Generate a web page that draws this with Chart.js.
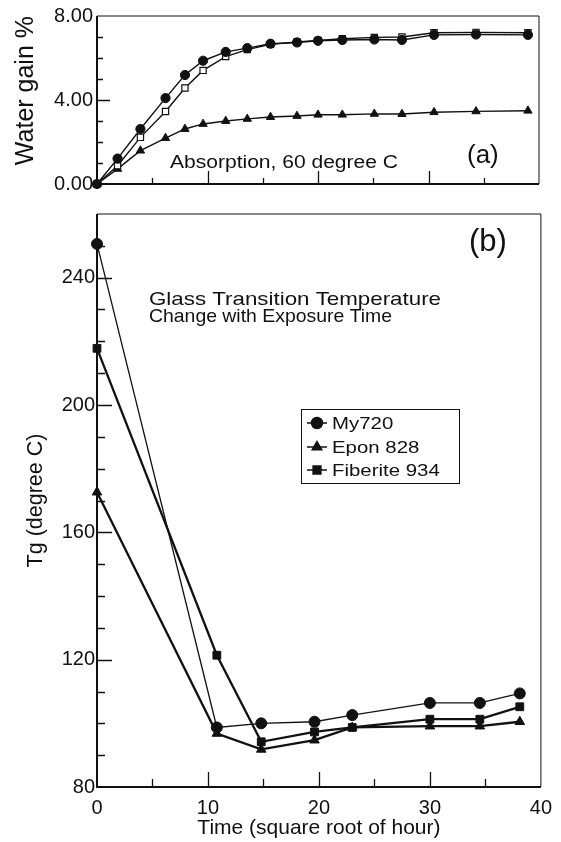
<!DOCTYPE html>
<html>
<head>
<meta charset="utf-8">
<script src="https://cdn.jsdelivr.net/npm/chart.js@4.4.0/dist/chart.umd.min.js"></script>
<style>
  body { margin: 0; background: #fff; }
  #chart-absorption { position: absolute; left: 0; top: 0; }
  #chart-tg { position: absolute; left: 0; top: 200px; }
</style>
</head>
<body>
<canvas id="chart-absorption" width="561" height="200"></canvas>
<canvas id="chart-tg" width="561" height="642"></canvas>
<script>
// panel (a): water gain vs sqrt(hour)
let absorbTime = [0, 1.86, 3.93, 6.2, 7.96, 9.6, 11.65, 13.6, 15.7, 18.1, 20, 22.2, 25.1, 27.6, 30.5, 34.3, 39];
let absorbMy720 = [0, 1.21, 2.62, 4.09, 5.19, 5.87, 6.29, 6.47, 6.68, 6.74, 6.82, 6.86, 6.88, 6.86, 7.1, 7.12, 7.1];
let absorbFiberite = [0, 0.87, 2.22, 3.45, 4.57, 5.41, 6.07, 6.4, 6.65, 6.76, 6.84, 6.92, 6.98, 7.0, 7.2, 7.22, 7.2];
let absorbEpon = [0, 0.72, 1.59, 2.19, 2.62, 2.86, 3.0, 3.1, 3.19, 3.24, 3.3, 3.3, 3.34, 3.33, 3.42, 3.46, 3.49];

// panel (b): Tg vs sqrt(hour)
let tgTime = [0, 10.8, 14.8, 19.6, 23, 30, 34.5, 38.1];
let tgMy720 = [250.6, 98.7, 100, 100.5, 102.6, 106.4, 106.4, 109.4];
let tgEpon = [172.6, 96.8, 91.8, 94.7, 98.7, 99.1, 99.1, 100.5];
let tgFiberite = [217.8, 121.4, 94.2, 97.3, 98.7, 101.3, 101.3, 105.2];

let waterTicks = [0, 4, 8];
let tgTicks = [80, 120, 160, 200, 240];
let timeTicks = [0, 10, 20, 30, 40];

let FONT = '"Liberation Sans", Arial, Helvetica, sans-serif';
Chart.defaults.font.family = FONT;
Chart.defaults.color = "#111";

let toPoints = function (xs, ys) {
  return xs.map(function (x, i) {
    return { x: x, y: ys[i] };
  });
};

let drawText = function (ctx, t) {
  ctx.save();
  ctx.font = (t.weight || "normal") + " " + t.size + "px " + FONT;
  ctx.fillStyle = "#111";
  ctx.textBaseline = "alphabetic";
  let w = ctx.measureText(t.text).width;
  let sx = t.width ? t.width / w : t.stretch || 1;
  ctx.translate(t.x, t.y);
  ctx.scale(sx, 1);
  ctx.fillText(t.text, 0, 0);
  ctx.restore();
};

// frame, inward ticks, texts and legend
let panelDecor = {
  id: "panelDecor",
  afterDatasetsDraw: function (chart, args, opts) {
    let ctx = chart.ctx;
    let a = chart.chartArea;
    let xs = chart.scales.x;
    let ys = chart.scales.y;
    ctx.save();
    ctx.strokeStyle = "#111";
    ctx.lineWidth = 1;
    ctx.beginPath();
    ctx.moveTo(a.left, a.top);
    ctx.lineTo(a.right, a.top);
    ctx.lineTo(a.right, a.bottom);
    ctx.stroke();
    ctx.lineWidth = 2;
    ctx.beginPath();
    ctx.moveTo(a.left, a.top);
    ctx.lineTo(a.left, a.bottom);
    ctx.lineTo(a.right, a.bottom);
    ctx.stroke();

    ctx.lineWidth = 1.3;
    ctx.beginPath();
    for (let v = xs.min + opts.xMinor; v < xs.max; v += opts.xMinor) {
      let px = Math.round(xs.getPixelForValue(v)) + 0.5;
      let len = v % opts.xMajor === 0 ? opts.majorLen : opts.minorLen;
      ctx.moveTo(px, a.bottom);
      ctx.lineTo(px, a.bottom - len);
    }
    for (let v = ys.min + opts.yMinor; v < ys.max - 1e-9; v += opts.yMinor) {
      let py = Math.round(ys.getPixelForValue(v)) + 0.5;
      let r = (v - ys.min) / opts.yMajor;
      let len = Math.abs(r - Math.round(r)) < 1e-6 ? opts.majorLen : opts.minorLen;
      ctx.moveTo(a.left, py);
      ctx.lineTo(a.left + len, py);
    }
    ctx.stroke();

    (opts.texts || []).forEach(function (t) {
      drawText(ctx, t);
    });

    if (opts.legend) {
      let lg = opts.legend;
      ctx.lineWidth = 1;
      ctx.strokeRect(lg.left + 0.5, lg.top + 0.5, lg.width, lg.height);
      chart.data.datasets.forEach(function (ds, i) {
        let y = lg.rows[i];
        ctx.strokeStyle = "#111";
        ctx.fillStyle = "#111";
        ctx.lineWidth = 1.5;
        ctx.beginPath();
        ctx.moveTo(lg.left + 6, y);
        ctx.lineTo(lg.left + 26, y);
        ctx.stroke();
        Chart.helpers.drawPoint(ctx, {
          pointStyle: ds.pointStyle,
          radius: ds.pointRadius,
          rotation: 0,
          borderWidth: 1,
        }, lg.left + 16, y);
        drawText(ctx, {
          text: ds.label,
          x: lg.left + 31,
          y: y + 6,
          size: 17,
          stretch: 1.2,
        });
      });
    }
    ctx.restore();
  },
};

let chartDraw = function () {
  let ctxAbsorption = document.getElementById("chart-absorption").getContext("2d");
  let ctxTg = document.getElementById("chart-tg").getContext("2d");

  new Chart(ctxAbsorption, {
    type: "line",
    data: {
      datasets: [
        {
          label: "My720",
          data: toPoints(absorbTime, absorbMy720),
          borderColor: "#111",
          borderWidth: 1.4,
          pointStyle: "circle",
          pointRadius: 4.6,
          pointBackgroundColor: "#111",
          pointBorderColor: "#111",
          pointBorderWidth: 1,
          clip: false,
        },
        {
          label: "Fiberite 934",
          data: toPoints(absorbTime, absorbFiberite),
          borderColor: "#111",
          borderWidth: 1.4,
          pointStyle: "rect",
          pointRadius: 4.4,
          pointBackgroundColor: "#fff",
          pointBorderColor: "#111",
          pointBorderWidth: 1.2,
          clip: false,
        },
        {
          label: "Epon 828",
          data: toPoints(absorbTime, absorbEpon),
          borderColor: "#111",
          borderWidth: 1.4,
          pointStyle: "triangle",
          pointRadius: 4.8,
          pointBackgroundColor: "#111",
          pointBorderColor: "#111",
          pointBorderWidth: 1,
          clip: false,
        },
      ],
    },
    options: {
      responsive: false,
      animation: false,
      devicePixelRatio: 1,
      layout: { padding: { top: 15, right: 22, left: 0, bottom: 0 } },
      plugins: {
        legend: { display: false },
        tooltip: { enabled: false },
        panelDecor: {
          xMinor: 5,
          xMajor: 10,
          yMinor: 1,
          yMajor: 4,
          majorLen: 13,
          minorLen: 6,
          texts: [
            { text: "Absorption, 60 degree C", x: 170, y: 168, size: 18, width: 228 },
            { text: "(a)", x: 467, y: 162.5, size: 26 },
          ],
        },
      },
      scales: {
        x: {
          type: "linear",
          min: 0,
          max: 40,
          grid: { display: false, drawTicks: false },
          border: { display: false },
          ticks: { display: false },
          afterFit: function (scale) {
            scale.height = 7;
          },
        },
        y: {
          type: "linear",
          min: 0,
          max: 8,
          grid: { display: false, drawTicks: false },
          border: { display: false },
          afterBuildTicks: function (scale) {
            scale.ticks = waterTicks.map(function (v) {
              return { value: v };
            });
          },
          ticks: {
            padding: 4,
            font: { size: 20 },
            color: "#111",
            callback: function (v) {
              return Number(v).toFixed(2);
            },
          },
          title: {
            display: true,
            text: "Water gain %",
            align: "end",
            font: { size: 25 },
            color: "#111",
            padding: { top: 11, bottom: 0 },
          },
          afterFit: function (scale) {
            scale.width = 97;
          },
        },
      },
    },
    plugins: [panelDecor],
  });

  new Chart(ctxTg, {
    type: "line",
    data: {
      datasets: [
        {
          label: "My720",
          data: toPoints(tgTime, tgMy720),
          borderColor: "#111",
          borderWidth: 1.3,
          pointStyle: "circle",
          pointRadius: 5.5,
          pointBackgroundColor: "#111",
          pointBorderColor: "#111",
          pointBorderWidth: 1,
          clip: false,
        },
        {
          label: "Epon 828",
          data: toPoints(tgTime, tgEpon),
          borderColor: "#111",
          borderWidth: 2.3,
          pointStyle: "triangle",
          pointRadius: 5.5,
          pointBackgroundColor: "#111",
          pointBorderColor: "#111",
          pointBorderWidth: 1,
          clip: false,
        },
        {
          label: "Fiberite 934",
          data: toPoints(tgTime, tgFiberite),
          borderColor: "#111",
          borderWidth: 2.3,
          pointStyle: "rect",
          pointRadius: 5.5,
          pointBackgroundColor: "#111",
          pointBorderColor: "#111",
          pointBorderWidth: 1,
          clip: false,
        },
      ],
    },
    options: {
      responsive: false,
      animation: false,
      devicePixelRatio: 1,
      layout: { padding: { top: 13, right: 20, left: 0, bottom: 0 } },
      plugins: {
        legend: { display: false },
        tooltip: { enabled: false },
        panelDecor: {
          xMinor: 5,
          xMajor: 10,
          yMinor: 10,
          yMajor: 40,
          majorLen: 15,
          minorLen: 8,
          texts: [
            { text: "(b)", x: 469, y: 50.5, size: 31 },
            { text: "Glass Transition Temperature", x: 149, y: 105, size: 18.5, width: 292 },
            { text: "Change with Exposure Time", x: 149, y: 122, size: 18.5, width: 243 },
          ],
          legend: { left: 301, top: 209, width: 158, height: 74, rows: [223, 247, 270] },
        },
      },
      scales: {
        x: {
          type: "linear",
          min: 0,
          max: 40,
          grid: { display: false, drawTicks: false },
          border: { display: false },
          afterBuildTicks: function (scale) {
            scale.ticks = timeTicks.map(function (v) {
              return { value: v };
            });
          },
          ticks: { padding: 9, font: { size: 20 }, color: "#111", maxRotation: 0 },
          title: {
            display: true,
            text: "Time (square root of hour)",
            font: { size: 21 },
            color: "#111",
            padding: { top: 0, bottom: 1 },
          },
          afterFit: function (scale) {
            scale.height = 55;
          },
        },
        y: {
          type: "linear",
          min: 80,
          max: 260,
          grid: { display: false, drawTicks: false },
          border: { display: false },
          afterBuildTicks: function (scale) {
            scale.ticks = tgTicks.map(function (v) {
              return { value: v };
            });
          },
          ticks: { padding: 2, font: { size: 20 }, color: "#111" },
          title: {
            display: true,
            text: "Tg (degree C)",
            font: { size: 21.5 },
            color: "#111",
            padding: { top: 23, bottom: 0 },
          },
          afterFit: function (scale) {
            scale.width = 97;
          },
        },
      },
    },
    plugins: [panelDecor],
  });
};

window.onload = function () {
  chartDraw();
};
</script>
</body>
</html>
